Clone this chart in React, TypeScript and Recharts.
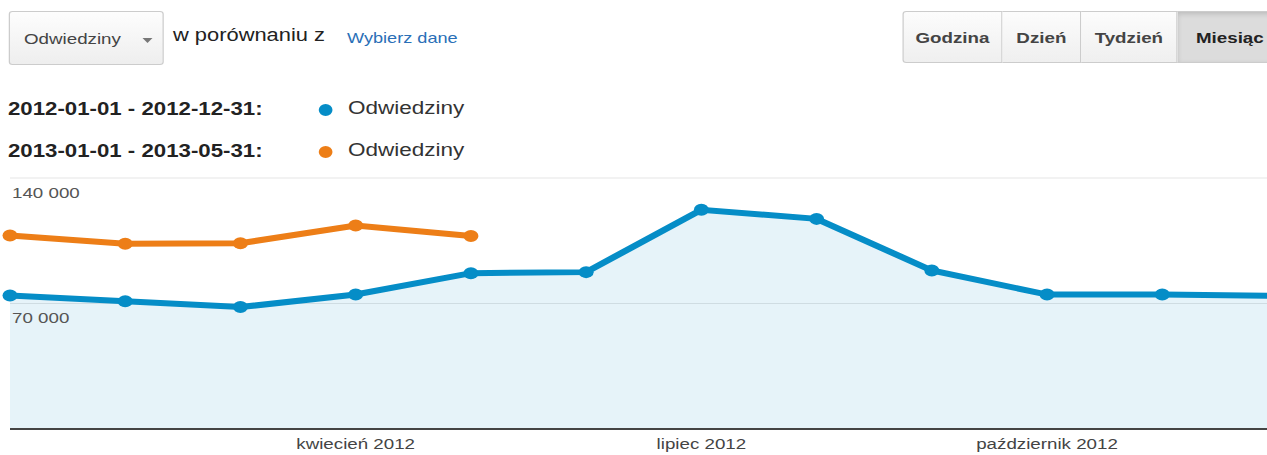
import { ComposedChart, Area, Line, XAxis, YAxis, CartesianGrid } from 'recharts'

const months = [
  'styczeń 2012', 'luty 2012', 'marzec 2012', 'kwiecień 2012', 'maj 2012', 'czerwiec 2012',
  'lipiec 2012', 'sierpień 2012', 'wrzesień 2012', 'październik 2012', 'listopad 2012', 'grudzień 2012',
]
const visits2012 = [74500, 71300, 68000, 75000, 86900, 87500, 122300, 117200, 88400, 75000, 75000, 74200]
const visits2013 = [107900, 103300, 103600, 113500, 107600]
const yTicks = [70000, 140000]
const xTickLabels = ['kwiecień 2012', 'lipiec 2012', 'październik 2012']
const periods = ['2012-01-01 - 2012-12-31:', '2013-01-01 - 2013-05-31:']
const metric = 'Odwiedziny'
const granularity = ['Godzina', 'Dzień', 'Tydzień', 'Miesiąc']

const BLUE = '#058dc7'
const ORANGE = '#ed7e17'
const FONT = '"Liberation Sans", Arial, sans-serif'
// the screenshot is stretched sideways, so everything is drawn narrow and widened
const STRETCH = 1.25

const data = months.map((m, i) => ({ month: m, v2012: visits2012[i], v2013: visits2013[i] }))

const fmt = (v: number) => String(v).replace(/\B(?=(\d{3})+(?!\d))/g, ' ')

const renderYTick = (props: any) => (
  <text x={Number(props.x) + 1.6} y={Number(props.y) + 20} fill="#555" fontSize={15} fontFamily={FONT} textAnchor="start">
    {fmt(props.payload.value)}
  </text>
)

const renderXTick = (props: any) =>
  xTickLabels.includes(props.payload.value) ? (
    <text x={props.x} y={Number(props.y) + 20} fill="#444" fontSize={15} fontFamily={FONT} textAnchor="middle">
      {props.payload.value}
    </text>
  ) : (
    <g />
  )

const btnWidths = [80.8, 62.4, 77.6, 84]

export default function App() {
  return (
    <div style={{ position: 'absolute', left: 0, top: 0, width: 1267, height: 455, overflow: 'hidden', background: '#fff' }}>
      <div
        style={{
          position: 'relative',
          width: 1267 / STRETCH,
          height: 455,
          transform: `scaleX(${STRETCH})`,
          transformOrigin: '0 0',
          fontFamily: FONT,
        }}
      >
        {/* metric dropdown */}
        <div
          style={{
            position: 'absolute', left: 7.2, top: 11, width: 124, height: 54, boxSizing: 'border-box',
            border: '1px solid #ccc', borderRadius: 3, background: 'linear-gradient(#fdfdfd, #eeeeee)',
          }}
        >
          <span style={{ position: 'absolute', left: 11, top: 18, fontSize: 15, color: '#444' }}>{metric}</span>
          <span
            style={{
              position: 'absolute', left: 106, top: 26, width: 0, height: 0,
              borderLeft: '4px solid transparent', borderRight: '4px solid transparent', borderTop: '5px solid #777',
            }}
          />
        </div>
        <span style={{ position: 'absolute', left: 138.4, top: 25, fontSize: 17.5, color: '#222' }}>w porównaniu z</span>
        <span style={{ position: 'absolute', left: 277.6, top: 30, fontSize: 14.5, color: '#2a6fb7' }}>Wybierz dane</span>

        {/* granularity buttons */}
        <div style={{ position: 'absolute', left: 721.6, top: 11, height: 52, display: 'flex' }}>
          {granularity.map((g, i) => {
            const active = i === granularity.length - 1
            return (
              <div
                key={g}
                style={{
                  width: btnWidths[i], height: 52, boxSizing: 'border-box', display: 'flex',
                  alignItems: 'center', justifyContent: 'center',
                  border: '1px solid #ccc', borderLeft: i === 0 ? '1px solid #ccc' : 'none',
                  borderRadius: i === 0 ? '3px 0 0 3px' : 0,
                  background: active ? '#dcdcdc' : 'linear-gradient(#fcfcfc, #efefef)',
                  boxShadow: active ? 'inset 0 2px 5px rgba(0,0,0,0.15)' : 'none',
                  fontSize: 15, fontWeight: 'bold', color: active ? '#222' : '#444',
                }}
              >
                {g}
              </div>
            )
          })}
        </div>

        {/* legend */}
        {periods.map((p, i) => (
          <div key={p} style={{ position: 'absolute', left: 0, top: 98.5 + i * 42, height: 22, width: 500 }}>
            <span style={{ position: 'absolute', left: 6.4, top: 0, fontSize: 17.8, fontWeight: 'bold', color: '#222' }}>{p}</span>
            <span
              style={{
                position: 'absolute', left: 254.5, top: 5, width: 11, height: 12, borderRadius: '50%',
                background: i === 0 ? BLUE : ORANGE,
              }}
            />
            <span style={{ position: 'absolute', left: 278.4, top: -0.5, fontSize: 18, color: '#333' }}>{metric}</span>
          </div>
        ))}

        <div style={{ position: 'absolute', left: 0, top: 160 }}>
          <ComposedChart width={1040} height={299} data={data} margin={{ top: 18, right: 18, bottom: 0, left: 0 }}>
            <CartesianGrid horizontal vertical={false} stroke="#e6e6e6" />
            <XAxis
              dataKey="month"
              interval={0}
              height={30}
              tickSize={0}
              tickMargin={0}
              tickLine={false}
              axisLine={{ stroke: '#444', strokeWidth: 2 }}
              tick={renderXTick}
            />
            <YAxis
              width={8}
              domain={[0, 140000]}
              ticks={yTicks}
              interval={0}
              allowDataOverflow
              tickSize={0}
              tickMargin={0}
              tickLine={false}
              axisLine={false}
              tick={renderYTick}
            />
            <Area
              type="linear"
              dataKey="v2012"
              stroke={BLUE}
              strokeWidth={6}
              fill={BLUE}
              fillOpacity={0.1}
              dot={{ r: 6, fill: BLUE, fillOpacity: 1, stroke: 'none' }}
              activeDot={false}
              isAnimationActive={false}
            />
            <Line
              type="linear"
              dataKey="v2013"
              stroke={ORANGE}
              strokeWidth={6}
              dot={{ r: 6, fill: ORANGE, fillOpacity: 1, stroke: 'none' }}
              activeDot={false}
              isAnimationActive={false}
            />
          </ComposedChart>
        </div>
      </div>
    </div>
  )
}
